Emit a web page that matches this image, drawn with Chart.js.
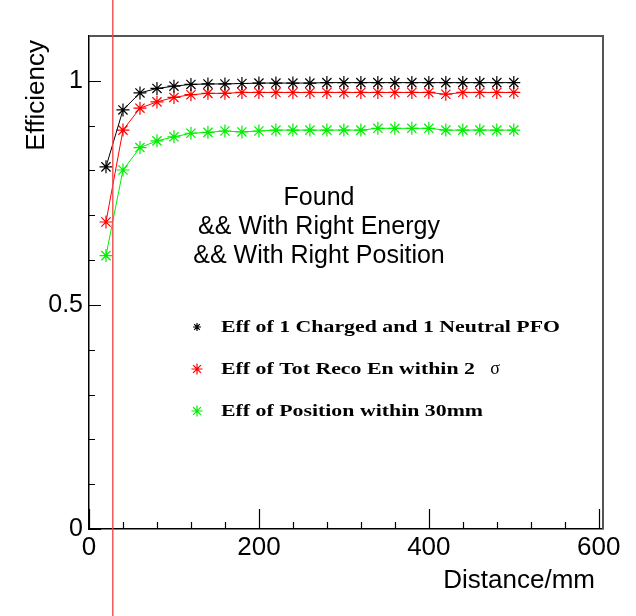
<!DOCTYPE html>
<html>
<head>
<meta charset="utf-8">
<script src="https://cdn.jsdelivr.net/npm/chart.js@4.4.1/dist/chart.umd.min.js"></script>
<style>
  html, body { margin: 0; padding: 0; background: #fff; }
</style>
</head>
<body>
<canvas id="effChart" width="636" height="616"></canvas>
<script>
// distance in mm
const distances = [20, 40, 60, 80, 100, 120, 140, 160, 180, 200, 220, 240, 260,
                   280, 300, 320, 340, 360, 380, 400, 420, 440, 460, 480, 500];

// Eff of 1 Charged and 1 Neutral PFO (black)
const effChargedNeutral = [0.808, 0.935, 0.973, 0.983, 0.988, 0.992, 0.993, 0.993, 0.994,
                           0.995, 0.995, 0.995, 0.995, 0.996, 0.996, 0.996, 0.996, 0.996,
                           0.996, 0.996, 0.996, 0.996, 0.996, 0.996, 0.996];

// Eff of Tot Reco En within 2 sigma (red)
const effEnergy = [0.685, 0.890, 0.939, 0.953, 0.963, 0.969, 0.972, 0.972, 0.974,
                   0.974, 0.974, 0.974, 0.974, 0.974, 0.974, 0.974, 0.974, 0.974,
                   0.974, 0.974, 0.970, 0.974, 0.974, 0.974, 0.974];

// Eff of Position within 30mm (green)
const effPosition = [0.610, 0.801, 0.851, 0.866, 0.875, 0.883, 0.885, 0.888, 0.886,
                     0.888, 0.890, 0.890, 0.890, 0.890, 0.890, 0.890, 0.894, 0.894,
                     0.894, 0.894, 0.890, 0.890, 0.890, 0.890, 0.890];

const seriesLabels = ['Eff of 1 Charged and 1 Neutral PFO', 'Eff of Tot Reco En within 2', 'Eff of Position within 30mm'];
const xTickLabels = [0, 200, 400, 600];
const yTickLabels = [0, 0.5, 1];
const noteLines = ['Found', '&& With Right Energy', '&& With Right Position'];
const cutLineX = 28;   // vertical red marker line

const SANS = '"Liberation Sans", Arial, sans-serif';
const SERIF = '"Liberation Serif", "Times New Roman", serif';

function toPoints(ys) {
    return distances.map((d, i) => ({ x: d, y: ys[i] }));
}

function series(label, ys, color) {
    return {
        label: label,
        data: toPoints(ys),
        showLine: true,
        borderColor: color,
        backgroundColor: color,
        borderWidth: 1,
        pointStyle: 'star',
        pointRadius: 6.5,
        pointBorderWidth: 1.2,
        pointBorderColor: color
    };
}

function star(ctx, x, y, r, color) {
    const d = r * 0.707;
    ctx.strokeStyle = color;
    ctx.lineWidth = 1.2;
    ctx.beginPath();
    ctx.moveTo(x - r, y); ctx.lineTo(x + r, y);
    ctx.moveTo(x, y - r); ctx.lineTo(x, y + r);
    ctx.moveTo(x - d, y - d); ctx.lineTo(x + d, y + d);
    ctx.moveTo(x - d, y + d); ctx.lineTo(x + d, y - d);
    ctx.stroke();
}

// ROOT-like frame, inner ticks, titles, legend and text
const rootDecor = {
    id: 'rootDecor',
    afterDraw(chart) {
        const ctx = chart.ctx;
        const area = chart.chartArea;
        const xs = chart.scales.x;
        const ys = chart.scales.y;
        ctx.save();

        // top and right frame
        ctx.strokeStyle = '#555';
        ctx.lineWidth = 2;
        ctx.beginPath();
        ctx.moveTo(area.left, area.top);
        ctx.lineTo(area.right, area.top);
        ctx.lineTo(area.right, area.bottom);
        ctx.stroke();

        // inner ticks
        ctx.strokeStyle = '#000';
        ctx.lineWidth = 1.2;
        ctx.beginPath();
        for (let v = 0; v <= 600; v += 40) {
            const px = Math.round(xs.getPixelForValue(v)) + 0.5;
            const len = xTickLabels.includes(v) ? 20 : 7;
            ctx.moveTo(px, area.bottom);
            ctx.lineTo(px, area.bottom - len);
        }
        for (let k = 0; k <= 10; k++) {
            const py = Math.round(ys.getPixelForValue(k / 10)) + 0.5;
            const len = (k % 5 === 0) ? 12 : 6;
            ctx.moveTo(area.left, py);
            ctx.lineTo(area.left + len, py);
        }
        ctx.stroke();

        // red marker line
        const lx = xs.getPixelForValue(cutLineX);
        ctx.strokeStyle = 'rgba(240, 70, 70, 0.9)';
        ctx.lineWidth = 1.5;
        ctx.beginPath();
        ctx.moveTo(lx, 0);
        ctx.lineTo(lx, chart.height);
        ctx.stroke();

        // axis titles
        ctx.fillStyle = '#000';
        ctx.font = '26px ' + SANS;
        ctx.textAlign = 'right';
        ctx.textBaseline = 'alphabetic';
        ctx.fillText('Distance/mm', 595, 588);
        ctx.save();
        ctx.translate(44, 40);
        ctx.rotate(-Math.PI / 2);
        ctx.fillText('Efficiency', 0, 0);
        ctx.restore();

        // note text
        ctx.font = '25px ' + SANS;
        ctx.textAlign = 'center';
        noteLines.forEach((t, i) => ctx.fillText(t, 319, 205 + i * 29));

        // legend (wide bold serif, stretched horizontally)
        const rows = [327, 369, 411];
        ctx.font = 'bold 17px ' + SERIF;
        ctx.textAlign = 'left';
        const stretch = 262 / ctx.measureText(seriesLabels[2]).width;
        chart.data.datasets.forEach((ds, i) => {
            star(ctx, 197, rows[i], i === 0 ? 4 : 5.5, ds.borderColor);
            ctx.save();
            ctx.translate(221, rows[i] + 5);
            ctx.scale(stretch, 1);
            ctx.fillStyle = '#000';
            ctx.fillText(ds.label, 0, 0);
            ctx.restore();
        });
        ctx.font = '18px ' + SERIF;
        ctx.textAlign = 'center';
        ctx.fillText('\u03c3', 495, rows[1] + 5);

        ctx.restore();
    }
};

new Chart(document.getElementById('effChart'), {
    type: 'scatter',
    data: {
        datasets: [
            series(seriesLabels[0], effChargedNeutral, '#000000'),
            series(seriesLabels[1], effEnergy, '#ff0000'),
            series(seriesLabels[2], effPosition, '#00ee00')
        ]
    },
    options: {
        responsive: false,
        animation: false,
        devicePixelRatio: 1,
        layout: { padding: { top: 36, right: 33, left: 0, bottom: 0 } },
        plugins: {
            legend: { display: false },
            tooltip: { enabled: false }
        },
        scales: {
            x: {
                type: 'linear',
                min: 0,
                max: 605,
                grid: { display: false, drawTicks: false },
                border: { display: true, color: '#000', width: 1.5 },
                ticks: {
                    autoSkip: false,
                    maxRotation: 0,
                    padding: 3,
                    color: '#000',
                    font: { family: SANS, size: 26 },
                    callback: v => String(v)
                },
                afterBuildTicks(scale) { scale.ticks = xTickLabels.map(v => ({ value: v })); },
                afterFit(scale) { scale.height = 87; }
            },
            y: {
                type: 'linear',
                min: 0,
                max: 1.1,
                grid: { display: false, drawTicks: false },
                border: { display: true, color: '#000', width: 1.5 },
                ticks: {
                    autoSkip: false,
                    padding: 6,
                    color: '#000',
                    font: { family: SANS, size: 25 },
                    callback: v => String(v)
                },
                afterBuildTicks(scale) { scale.ticks = yTickLabels.map(v => ({ value: v })); },
                afterFit(scale) { scale.width = 89; }
            }
        }
    },
    plugins: [rootDecor]
});
</script>
</body>
</html>
